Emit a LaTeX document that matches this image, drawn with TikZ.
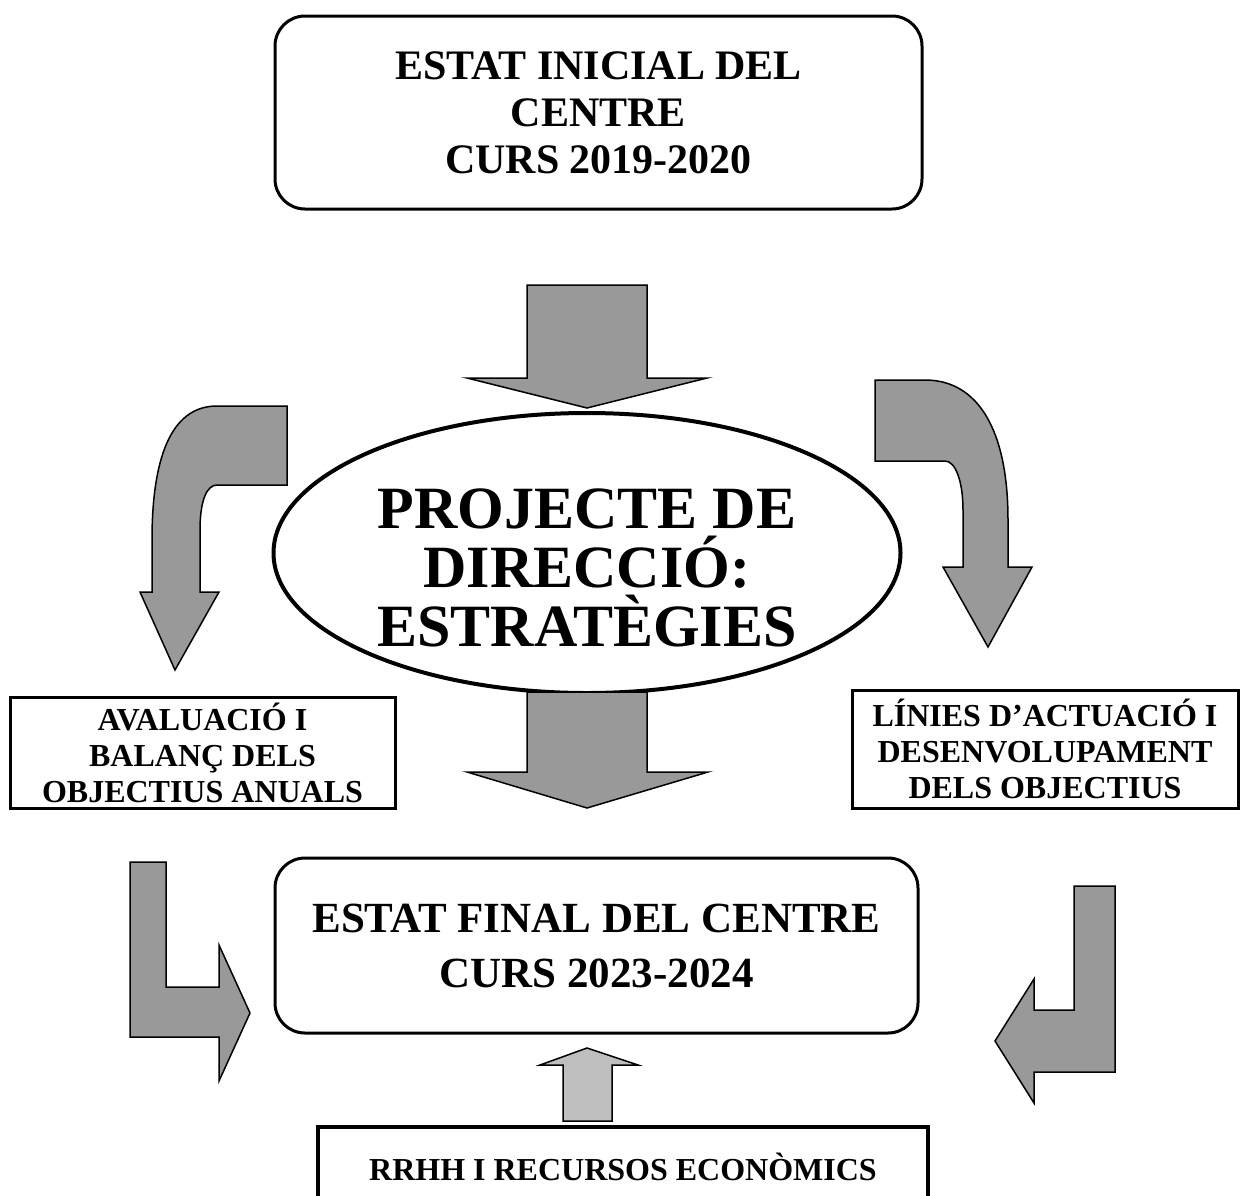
\documentclass[tikz,border=0pt]{standalone}
\usepackage{fontspec}
\setmainfont{Liberation Serif}
\usepackage{tikz}
\usetikzlibrary{shapes.geometric}

\begin{document}
\begin{tikzpicture}[%
    x=1pt,
    y=-1pt,
    stateBox/.style={%
        draw,
        rounded corners=30pt,
        line width=3pt,
        align=center,
        inner sep=0pt
    },
    bigEllipse/.style={%
        draw,
        ellipse,
        line width=4pt,
        inner sep=0pt
    },
    goalBox/.style={%
        draw,
        rectangle,
        line width=3pt,
        font=\bfseries\fontsize{32}{36}\selectfont,
        align=center,
        inner sep=0pt
    },
    resourceBox/.style={%
        rectangle,
        font=\bfseries\fontsize{32}{36}\selectfont,
        inner sep=0pt
    },
    blockArrow/.style={%
        draw,
        fill=black!40,
        line width=1.5pt,
        line join=miter
    },
    lightArrow/.style={%
        draw,
        fill=black!25,
        line width=1.5pt,
        line join=miter
    }
]

\useasboundingbox (0,0) rectangle (1243,1195);

% Initial state
    \node[stateBox, font=\bfseries\fontsize{42}{47}\selectfont,
        minimum width=647pt, minimum height=193pt] (initial) at (598.5,112.5)
        {ESTAT INICIAL DEL\\CENTRE\\CURS 2019-2020};

% Project
    \node[bigEllipse, minimum width=627pt, minimum height=280pt] (projecte) at (587,553) {};
    \node[font=\bfseries\fontsize{60}{59}\selectfont, align=center] (projecteText) at (587,568)
        {PROJECTE DE\\DIRECCIÓ:\\ESTRATÈGIES};

% Side boxes
    \node[goalBox, minimum width=385pt, minimum height=111pt] (avaluacio) at (202.5,752.5)
        {AVALUACIÓ I\\BALANÇ DELS\\OBJECTIUS ANUALS};
    \node[goalBox, minimum width=386pt, minimum height=118pt] (linies) at (1045,749)
        {LÍNIES D’ACTUACIÓ I\\DESENVOLUPAMENT\\DELS OBJECTIUS};

% Final state
    \node[stateBox, font=\bfseries\fontsize{43}{55}\selectfont,
        minimum width=643pt, minimum height=175pt] (final) at (596.5,945.5)
        {ESTAT FINAL DEL CENTRE\\CURS 2023-2024};

% Resources
    \node[resourceBox, minimum width=610pt, minimum height=80pt] (recursos) at (623,1167)
        {RRHH I RECURSOS ECONÒMICS};
    \draw[line width=4pt] (recursos.south west) -- (recursos.north west)
        -- (recursos.north east) -- (recursos.south east);

% Arrows
\draw[blockArrow] (527,285) -- (647,285) -- (647,378) -- (707,378) -- (587,408)
    -- (467,378) -- (527,378) -- cycle;

\draw[blockArrow] (527,692) -- (647,692) -- (647,772) -- (708,772) -- (587,808)
    -- (467,772) -- (527,772) -- cycle;

\draw[blockArrow] (287,406) -- (217,406) .. controls (170,406) and (152,460) .. (152,540)
    -- (152,592) -- (140,592) -- (175,670) -- (219,592) -- (200,592) -- (200,530)
    .. controls (200,500) and (207,485) .. (217,485) -- (287,485) -- cycle;

\draw[blockArrow] (875,380) -- (925,380) .. controls (978,380) and (1008,430) .. (1008,520)
    -- (1008,567) -- (1032,567) -- (988,647) -- (943,567) -- (963,567) -- (963,510)
    .. controls (963,480) and (955,461) .. (945,461) -- (875,461) -- cycle;

\draw[blockArrow] (130,862) -- (166,862) -- (166,987) -- (219,987) -- (219,945)
    -- (250,1013) -- (219,1081) -- (219,1037) -- (130,1037) -- cycle;

\draw[blockArrow] (1074,886) -- (1115,886) -- (1115,1072) -- (1034,1072) -- (1034,1103)
    -- (995,1041) -- (1034,979) -- (1034,1010) -- (1074,1010) -- cycle;

\draw[lightArrow] (563,1121) -- (563,1065) -- (540,1065) -- (587,1048) -- (638,1065)
    -- (612,1065) -- (612,1121) -- cycle;

\end{tikzpicture}
\end{document}
